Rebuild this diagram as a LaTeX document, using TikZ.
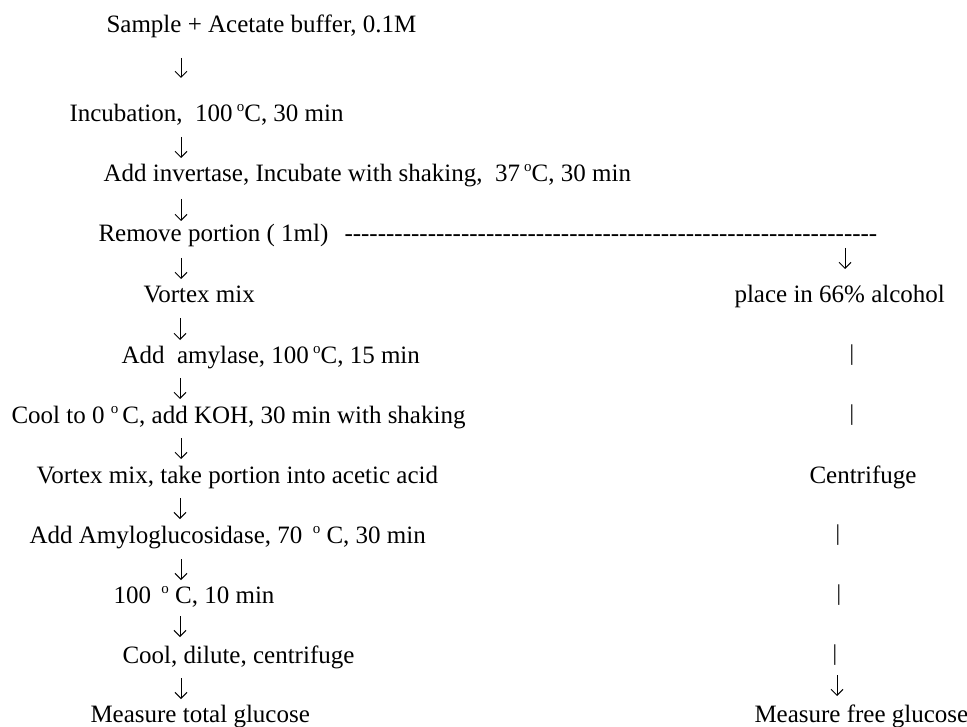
\documentclass[tikz,border=0pt]{standalone}
\usepackage{fontspec}
\setmainfont{Liberation Serif}[Ligatures=TeXOff]
\usetikzlibrary{arrows.meta}

\tikzset{every picture/.style={line width=0.75pt}}
\tikzset{
  txt/.style={anchor=base west,inner sep=0.75pt,font=\fontsize{18.75}{22}\selectfont},
  vbar/.style={anchor=center,inner sep=0pt,font=\fontsize{17}{19}\selectfont},
  flow/.style={-{Straight Barb[length=4.5pt,width=9pt]},line width=0.75pt}
}
\newcommand{\dg}{\raisebox{7.5pt}{\fontsize{11.25}{12}\selectfont o}}

\begin{document}
\begin{tikzpicture}[x=0.75pt,y=0.75pt,yscale=-1,xscale=1]
%set diagram left start at 0, and has height of 727
\useasboundingbox (0,0) rectangle (967,727);

% Text Node
\draw (105,33) node [txt] (sample) {Sample + Acetate buffer, 0.1M};
% Text Node
\draw (68,122) node [txt] (incub) {Incubation,\ \ 100\,\dg C, 30 min};
% Text Node
\draw (102,182) node [txt] (invert) {Add invertase, Incubate with shaking,\ \ 37\,\dg C, 30 min};
% Text Node
\draw (97,242) node [txt] (remove) {Remove portion ( 1ml)};
% Text Node
\draw (343,242) node [txt] (split) {\foreach \i in {1,...,64}{-}};
% Text Node
\draw (142,302) node [txt] (vortex) {Vortex mix};
% Text Node
\draw (120,363) node [txt] (amylase) {Add\ \ amylase, 100\,\dg C, 15 min};
% Text Node
\draw (10,423) node [txt] (cool) {Cool to 0 \dg\,C, add KOH, 30 min with shaking};
% Text Node
\draw (35,483) node [txt] (acetic) {Vortex mix, take portion into acetic acid};
% Text Node
\draw (28,543) node [txt] (amylo) {Add Amyloglucosidase, 70\ \,\dg\ C, 30 min};
% Text Node
\draw (112,603) node [txt] (heat) {100\ \,\dg\ C, 10 min};
% Text Node
\draw (121,663) node [txt] (dilute) {Cool, dilute, centrifuge};
% Text Node
\draw (89,722) node [txt] (total) {Measure total glucose};
% Text Node
\draw (733,302) node [txt] (alcohol) {place in 66\% alcohol};
% Text Node
\draw (808,483) node [txt] (centri) {Centrifuge};
% Text Node
\draw (753,722) node [txt] (free) {Measure free glucose};

% Bars (right column)
\draw (852,355) node [vbar] (b1) {|};
\draw (852,415) node [vbar] (b2) {|};
\draw (838,535) node [vbar] (b3) {|};
\draw (839,595) node [vbar] (b4) {|};
\draw (835,655) node [vbar] (b5) {|};

% Arrow ends
\coordinate (sample-out) at (181,58);   \coordinate (incub-in) at (181,78);
\coordinate (incub-out) at (181,137);   \coordinate (invert-in) at (181,158);
\coordinate (invert-out) at (181,199);  \coordinate (remove-in) at (181,221);
\coordinate (remove-out) at (181,258);  \coordinate (vortex-in) at (181,279);
\coordinate (vortex-out) at (180,318);  \coordinate (amylase-in) at (180,340);
\coordinate (amylase-out) at (180,378); \coordinate (cool-in) at (180,399);
\coordinate (cool-out) at (181,438);    \coordinate (acetic-in) at (181,459);
\coordinate (acetic-out) at (180,498);  \coordinate (amylo-in) at (180,519);
\coordinate (amylo-out) at (181,559);   \coordinate (heat-in) at (181,580);
\coordinate (heat-out) at (180,616);    \coordinate (dilute-in) at (180,637);
\coordinate (dilute-out) at (181,678);  \coordinate (total-in) at (181,699);
\coordinate (split-out) at (845,248);   \coordinate (alcohol-in) at (845,269);
\coordinate (b5-out) at (837,675);      \coordinate (free-in) at (837,696);

% Arrows
\draw [flow] (sample-out) -- (incub-in);
\draw [flow] (incub-out) -- (invert-in);
\draw [flow] (invert-out) -- (remove-in);
\draw [flow] (remove-out) -- (vortex-in);
\draw [flow] (vortex-out) -- (amylase-in);
\draw [flow] (amylase-out) -- (cool-in);
\draw [flow] (cool-out) -- (acetic-in);
\draw [flow] (acetic-out) -- (amylo-in);
\draw [flow] (amylo-out) -- (heat-in);
\draw [flow] (heat-out) -- (dilute-in);
\draw [flow] (dilute-out) -- (total-in);
\draw [flow] (split-out) -- (alcohol-in);
\draw [flow] (b5-out) -- (free-in);

\end{tikzpicture}
\end{document}
